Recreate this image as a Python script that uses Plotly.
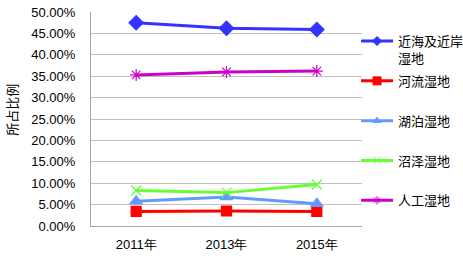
import plotly.graph_objects as go

years = ["2011年", "2013年", "2015年"]
coastal = [0.475, 0.462, 0.459]
river = [0.034, 0.035, 0.034]
lake = [0.058, 0.068, 0.052]
marsh = [0.083, 0.078, 0.097]
artificial = [0.353, 0.360, 0.362]

names = ["近海及近岸<br>湿地", "河流湿地<br> ", "湖泊湿地<br> ", "沼泽湿地<br> ", "人工湿地<br> "]
series = [coastal, river, lake, marsh, artificial]
colors = ["#3333FF", "#FF0000", "#6699FF", "#66FF33", "#CC00CC"]
symbols = ["diamond", "square", "triangle-up", "x-thin-open", "asterisk-open"]
sizes = [11, 10, 11, 10, 10]
legend_sizes = [7, 8, 7, 7, 7]

fig = go.Figure()
for i, (nm, ys, c, s, sz, lsz) in enumerate(zip(names, series, colors, symbols, sizes, legend_sizes)):
    fig.add_trace(go.Scatter(
        x=years, y=ys, name=nm, mode="lines+markers", showlegend=False,
        line=dict(color=c, width=3),
        marker=dict(symbol=s, size=sz, color=c, line=dict(color=c, width=1.2)),
        legendgroup=str(i),
    ))
    # legend entry with smaller marker, no data drawn
    fig.add_trace(go.Scatter(
        x=[None], y=[None], name=nm, mode="lines+markers", showlegend=True,
        line=dict(color=c, width=3),
        marker=dict(symbol=s, size=lsz, color=c, line=dict(color=c, width=1)),
        legendgroup=str(i),
    ))

fig.update_layout(
    width=463, height=258,
    margin=dict(l=91, r=101, t=12, b=32, autoexpand=False),
    paper_bgcolor="white", plot_bgcolor="white",
    font=dict(family="Liberation Sans, Arial", size=13, color="#000000"),
    legend=dict(
        x=0.978, xanchor="left", y=0.934, yanchor="top",
        font=dict(family="Noto Sans CJK SC", size=13),
        valign="top", tracegroupgap=3, itemwidth=32, bgcolor="rgba(0,0,0,0)",
    ),
    showlegend=True,
)
fig.update_xaxes(
    type="category", range=[-0.5, 2.5], showgrid=False, automargin=False,
    showline=True, linecolor="#A6A6A6", linewidth=1,
    ticks="", ticklabelstandoff=6,
    tickfont=dict(family="Liberation Sans, Arial", size=13),
)
fig.update_yaxes(
    range=[0, 0.5], dtick=0.05, tickformat=".2%", automargin=False,
    showgrid=True, gridcolor="#BFBFBF", gridwidth=1,
    showline=True, linecolor="#A6A6A6", linewidth=1,
    zeroline=False, ticks="", ticklabelstandoff=12,
    tickfont=dict(family="Liberation Sans, Arial", size=13),
)
fig.add_annotation(
    text="所占比例", textangle=-90, xref="paper", yref="paper",
    x=-0.296, y=0.542, xanchor="center", yanchor="middle", showarrow=False,
    font=dict(family="Noto Sans CJK SC", size=13),
)
fig.write_html(
    "out.html",
    config={"displayModeBar": False},
    post_script="document.body.style.margin='0';document.body.style.overflow='hidden';",
)
